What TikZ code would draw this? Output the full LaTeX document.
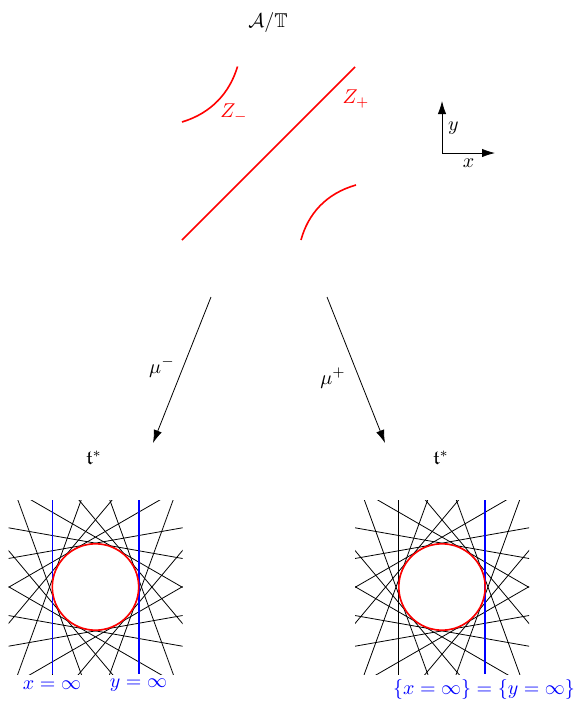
\documentclass[tikz,border=0pt]{standalone}
\usepackage{amsmath, amssymb}
\usepackage{tikz}
\usetikzlibrary{calc, arrows.meta}

\tikzset{
  redline/.style={red, line width=0.8pt},
  blueline/.style={blue, line width=0.8pt},
  arr/.style={-{Latex[length=6.5pt, width=4.2pt]}},
}

\begin{document}
\begin{tikzpicture}[x=0.5pt, y=-0.5pt, every node/.style={font=\normalsize}]
        \useasboundingbox (0,0) rectangle (576,702);

        % the quotient A/T
        \node (quot) at (268,22) {$\mathcal{A}/\mathbb{T}$};
        \draw[redline] (182,240) -- (355,67);
        \draw[redline] (182,122) .. controls (212,113) and (230,92) .. (237.5,66.5);
        \draw[redline] (301,240) .. controls (308,214) and (326,193.5) .. (356,185);
        \node[red] (zminus) at (234,113) {$Z_-$};
        \node[red] (zplus) at (356,99) {$Z_+$};

        % axes
        \coordinate (orig) at (442,153);
        \coordinate (xend) at (495,153);
        \coordinate (yend) at (442,101);
        \draw[arr] (orig) -- (xend);
        \draw[arr] (orig) -- (yend);
        \node (xlab) at (468.5,163) {$x$};
        \node (ylab) at (453.5,128) {$y$};

        % the two moment maps
        \coordinate (mmstart) at (211,297);
        \coordinate (mmend) at (153,443);
        \coordinate (mpstart) at (327,297);
        \coordinate (mpend) at (385,443);
        \draw[arr] (mmstart) -- (mmend);
        \draw[arr] (mpstart) -- (mpend);
        \node (mulab) at (162,367) {$\mu^-$};
        \node (mplab) at (333,378) {$\mu^+$};

        \node (tleft) at (94,458) {$\mathfrak{t}^*$};
        \node (tright) at (441,458) {$\mathfrak{t}^*$};

        % left arrangement
        \begin{scope}[shift={(95.5,587)}]
            \begin{scope}
                \clip (-87,-87) rectangle (87,87);
                \foreach \a in {20,40,...,340}
                    \draw[black, rotate=\a] (43.2,-200) -- (43.2,200);
            \end{scope}
            \draw[blueline] (-43.2,-87) -- (-43.2,87);
            \draw[blueline] (43.2,-87) -- (43.2,87);
            \draw[redline] (0,0) circle[radius=43.2];
        \end{scope}
        \node[blue] (xinf) at (52,685) {$x=\infty$};
        \node[blue] (yinf) at (138.5,685) {$y=\infty$};

        % right arrangement
        \begin{scope}[shift={(442,587)}]
            \begin{scope}
                \clip (-87,-87) rectangle (87,87);
                \foreach \a in {20,40,...,340}
                    \draw[black, rotate=\a] (43.2,-200) -- (43.2,200);
            \end{scope}
            \draw[blueline] (43.2,-87) -- (43.2,87);
            \draw[redline] (0,0) circle[radius=43.2];
        \end{scope}
        \node[blue] (xyinf) at (484,689) {$\{x=\infty\}=\{y=\infty\}$};
    \end{tikzpicture}
\end{document}
